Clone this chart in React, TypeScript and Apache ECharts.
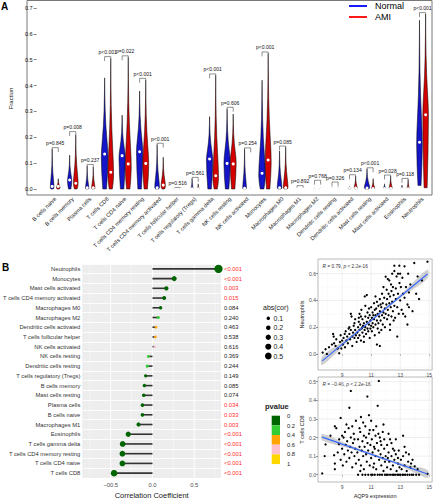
import React, { useEffect, useRef } from "react";
import * as echarts from "echarts";

// ---------- Panel A data ----------
const violinCats = ["B cells naive","B cells memory","Plasma cells","T cells CD8","T cells CD4 naive","T cells CD4 memory resting","T cells CD4 memory activated","T cells follicular helper","T cells regulatory (Tregs)","T cells gamma delta","NK cells resting","NK cells activated","Monocytes","Macrophages M0","Macrophages M1","Macrophages M2","Dendritic cells resting","Dendritic cells activated","Mast cells resting","Mast cells activated","Eosinophils","Neutrophils"];
const normalMed = [0.010,0.035,0.005,0.135,0.129,0.144,0.005,0.000,0.001,0.116,0.099,0.003,0.061,0.005,0.000,0.001,0.001,0.004,0.004,0.002,0.001,0.181];
const normalMin = [0,0,0,0,0,0,0,0,0,0,0,0,0,0,0,0,0,0,0,0,0,0.014];
const normalMax = [0.155,0.131,0.090,0.430,0.286,0.379,0.172,0.004,0.040,0.280,0.310,0.155,0.421,0.147,0.004,0.005,0.005,0.010,0.078,0.020,0.015,0.653];
const normalMode = [0.004,0.030,0.002,0.120,0.120,0.140,0.004,0,0,0.110,0.100,0.002,0.050,0.004,0,0,0,0.004,0.004,0.002,0.001,0.170];
const normalWidth = [0.55,0.65,0.5,1.0,0.95,0.95,0.7,0.3,0.3,0.95,0.95,0.55,1.0,0.7,0.3,0.3,0.3,0.45,0.8,0.35,0.3,0.85];
const amiMed = [0.010,0.022,0.005,0.065,0.097,0.099,0.015,0.000,0.001,0.051,0.097,0.001,0.112,0.005,0.000,0.001,0.001,0.004,0.002,0.003,0.001,0.287];
const amiMin = [0,0,0,0,0,0,0,0,0,0,0,0,0,0,0,0,0,0,0,0,0,0.005];
const amiMax = [0.040,0.210,0.085,0.505,0.510,0.422,0.123,0.004,0.020,0.440,0.290,0.005,0.525,0.162,0.004,0.005,0.005,0.050,0.040,0.050,0.037,0.677];
const amiMode = [0.004,0.020,0.002,0.050,0.080,0.090,0.010,0,0,0.040,0.100,0,0.100,0.004,0,0,0,0.004,0.002,0.003,0.001,0.280];
const amiWidth = [0.55,0.7,0.5,0.85,0.9,0.9,0.65,0.3,0.3,0.85,0.9,0.3,0.9,0.7,0.3,0.3,0.3,0.45,0.45,0.45,0.3,0.85];
const bracketY = [0.160,0.222,0.095,0.512,0.515,0.428,0.177,0.006,0.045,0.445,0.316,0.159,0.530,0.166,0.013,0.034,0.027,0.055,0.082,0.054,0.041,0.682];
const pTexts = ["p=0.845","p=0.008","p=0.237","p<0.001","p=0.022","p<0.001","p<0.001","p=0.516","p=0.561","p<0.001","p=0.606","p=0.254","p<0.001","p=0.085","p=0.892","p=0.768","p=0.326","p=0.134","p<0.001","p=0.028","p=0.118","p<0.001"];

// ---------- Panel B lollipop data ----------
const corCats = ["Neutrophils","Monocytes","Mast cells activated","T cells CD4 memory activated","Macrophages M0","Macrophages M2","Dendritic cells activated","T cells follicular helper","NK cells activated","NK cells resting","Dendritic cells resting","T cells regulatory (Tregs)","B cells memory","Mast cells resting","Plasma cells","B cells naive","Macrophages M1","Eosinophils","T cells gamma delta","T cells CD4 memory resting","T cells CD4 naive","T cells CD8"];
const corValues = [0.79,0.26,0.166,0.14,0.097,0.07,0.042,0.035,0.027,-0.05,-0.063,-0.082,-0.097,-0.105,-0.12,-0.12,-0.167,-0.29,-0.357,-0.36,-0.36,-0.46];
const corPLabels = ["<0.001","<0.001","0.003","0.015","0.084","0.240","0.463","0.538","0.616","0.369","0.244","0.149","0.085","0.074","0.034","0.033","0.003","<0.001","<0.001","<0.001","<0.001","<0.001"];
const corTicks = [-0.5, 0, 0.5];
const corMinorTicks = [-0.75, -0.25, 0.25, 0.75];
const sizeLegendValues = [0.1, 0.2, 0.3, 0.4, 0.5];
const pBinLabels = ["0", "0.2", "0.4", "0.6", "0.8", "1"];
const pColors = ["#006400", "#32cd32", "#ffa500", "#ffc0cb", "#ffd700"];

// ---------- Panel B scatter data ----------
const neutroPoints = [
[7.66,0.01],[7.86,0.035],[7.95,0.0],[8.1,0.05],[8.3,0.07],[8.38,0.15],[8.42,0.13],[8.45,0.08],[8.55,0.06],[8.6,0.11],[8.7,0.04],[8.8,0.005],[8.85,0.09],[8.95,0.04],[9.0,0.1],[8.9,0.14],[9.05,0.07],[9.1,0.12],[9.18,0.15],[9.2,0.05],
[9.25,0.17],[9.3,0.1],[9.35,0.13],[9.4,0.08],[9.45,0.19],[9.5,0.15],[9.55,0.11],[9.6,0.3],[9.65,0.28],[9.6,0.18],[9.7,0.06],[9.75,0.16],[9.8,0.21],[9.85,0.12],[9.9,0.18],[9.95,0.14],[9.7,0.13],[9.5,0.2],[9.85,0.23],[10.0,0.09],[9.9,0.26],
[10.05,0.16],[10.1,0.2],[10.1,0.12],[10.15,0.24],[10.2,0.18],[10.2,0.14],[10.25,0.22],[10.3,0.1],[10.33,0.33],[10.35,0.19],[10.4,0.16],[10.4,0.26],[10.45,0.21],[10.5,0.13],[10.5,0.23],[10.55,0.18],[10.56,0.43],[10.6,0.28],[10.6,0.2],[10.65,0.15],[10.7,0.44],[10.7,0.24],[10.75,0.31],[10.75,0.19],[10.8,0.17],[10.8,0.27],[10.85,0.22],[10.9,0.12],[10.9,0.29],[10.95,0.25],[10.95,0.19],[11.0,0.35],[11.0,0.21],[10.3,0.28],[10.6,0.36],[10.2,0.3],[10.5,0.09],[10.15,0.27],[10.85,0.34],[10.4,0.2],
[11.05,0.27],[11.05,0.17],[11.1,0.23],[11.1,0.31],[11.15,0.2],[11.2,0.38],[11.2,0.26],[11.25,0.14],[11.3,0.43],[11.3,0.29],[11.3,0.22],[11.35,0.34],[11.4,0.07],[11.4,0.25],[11.45,0.3],[11.45,0.19],[11.5,0.36],[11.5,0.23],[11.55,0.28],[11.6,0.06],[11.6,0.32],[11.6,0.41],[11.65,0.25],[11.7,0.18],[11.7,0.35],[11.75,0.29],[11.75,0.45],[11.8,0.22],[11.8,0.38],[11.85,0.31],[11.9,0.27],[11.9,0.42],[11.95,0.34],[11.95,0.2],[11.25,0.33],[11.55,0.16],[11.85,0.5],[11.15,0.29],[11.65,0.37],[11.4,0.39],
[12.0,0.578],[12.0,0.3],[12.05,0.37],[12.07,0.48],[12.1,0.26],[12.1,0.41],[12.15,0.33],[12.2,0.45],[12.2,0.29],[12.25,0.55],[12.25,0.38],[12.3,0.22],[12.3,0.43],[12.35,0.35],[12.37,0.52],[12.4,0.28],[12.4,0.47],[12.45,0.39],[12.5,0.32],[12.5,0.5],[12.55,0.44],[12.6,0.66],[12.6,0.62],[12.6,0.36],[12.65,0.27],[12.7,0.49],[12.7,0.41],[12.75,0.58],[12.8,0.13],[12.8,0.35],[12.85,0.45],[12.9,0.3],[12.94,0.66],[12.95,0.53],[12.15,0.56],[12.45,0.6],[12.85,0.6],[12.3,0.18],[12.55,0.25],
[13.0,0.4],[13.05,0.5],[13.1,0.33],[13.15,0.57],[13.2,0.45],[13.3,0.655],[13.3,0.42],[13.35,0.28],[13.4,0.5],[13.5,0.37],[13.5,0.22],[13.55,0.6],[13.6,0.46],[13.7,0.52],[13.85,0.32],[13.97,0.68],[14.1,0.45],[14.2,0.58],[14.3,0.41],[14.5,0.55],[14.88,0.69],[13.2,0.3],[13.6,0.35],[13.0,0.6]
];
const cd8Points = [
[7.63,0.007],[7.8,0.1],[7.86,0.163],[8.2,0.21],[8.45,0.105],[8.5,0.06],[8.5,0.03],[8.5,0.26],[8.6,0.25],[8.7,0.12],[8.78,0.165],[8.9,0.305],[8.9,0.08],[9.0,0.14],[9.0,0.21],[8.8,0.19],[9.05,0.05],
[9.1,0.2],[9.15,0.11],[9.2,0.23],[9.25,0.16],[9.3,0.07],[9.35,0.18],[9.4,0.13],[9.45,0.25],[9.5,0.36],[9.5,0.09],[9.55,0.15],[9.6,0.45],[9.6,0.2],[9.65,0.12],[9.7,0.04],[9.75,0.17],[9.8,0.22],[9.85,0.1],[9.9,0.14],[9.95,0.29],[9.95,0.06],[9.3,0.27],[9.7,0.26],[9.85,0.19],
[10.05,0.12],[10.1,0.0],[10.1,0.19],[10.15,0.08],[10.2,0.15],[10.25,0.23],[10.3,0.31],[10.3,0.05],[10.35,0.13],[10.4,0.0],[10.4,0.18],[10.45,0.1],[10.5,0.21],[10.5,0.03],[10.55,0.15],[10.6,0.0],[10.6,0.26],[10.65,0.11],[10.7,0.07],[10.74,0.42],[10.75,0.17],[10.8,0.0],[10.8,0.13],[10.85,0.32],[10.85,0.22],[10.9,0.05],[10.95,0.16],[11.0,0.29],[11.0,0.09],[11.0,0.0],[10.2,0.25],[10.65,0.2],[10.45,0.28],[10.9,0.24],[10.25,0.02],
[11.05,0.19],[11.1,0.12],[11.1,0.0],[11.15,0.24],[11.2,0.06],[11.2,0.15],[11.25,0.0],[11.3,0.21],[11.3,0.1],[11.35,0.03],[11.4,0.17],[11.45,0.37],[11.45,0.0],[11.5,0.13],[11.53,0.504],[11.55,0.08],[11.6,0.2],[11.6,0.0],[11.65,0.11],[11.7,0.05],[11.7,0.16],[11.75,0.0],[11.8,0.23],[11.8,0.09],[11.85,0.27],[11.85,0.02],[11.9,0.14],[11.95,0.0],[11.95,0.07],[11.35,0.26],[11.15,0.04],[11.65,0.18],[11.25,0.14],[11.5,0.22],[11.9,0.19],
[12.0,0.1],[12.05,0.0],[12.1,0.16],[12.1,0.04],[12.15,0.0],[12.2,0.12],[12.25,0.07],[12.3,0.0],[12.3,0.19],[12.35,0.03],[12.4,0.1],[12.45,0.0],[12.5,0.14],[12.5,0.05],[12.55,0.0],[12.6,0.08],[12.65,0.0],[12.7,0.19],[12.7,0.11],[12.75,0.02],[12.8,0.0],[12.85,0.06],[12.9,0.13],[12.9,0.0],[12.95,0.04],[12.2,0.22],[12.4,0.17],[12.6,0.13],[12.15,0.09],[12.85,0.09],
[13.0,0.0],[13.05,0.08],[13.1,0.03],[13.15,0.0],[13.2,0.21],[13.2,0.1],[13.25,0.0],[13.3,0.05],[13.35,0.0],[13.4,0.12],[13.45,0.02],[13.5,0.0],[13.55,0.07],[13.6,0.11],[13.65,0.0],[13.7,0.04],[13.8,0.0],[13.85,0.08],[13.9,0.0],[14.0,0.045],[14.1,0.0],[14.2,0.03],[14.3,0.0],[14.88,0.005],[13.3,0.15],[13.75,0.06]
];
const neutroFitX = [7.63, 14.88];
const neutroFitY = [-0.052, 0.598];
const neutroBandX = [7.63, 9.5, 11.3, 13.1, 14.88];
const neutroBandLow = [-0.085, 0.102, 0.267, 0.425, 0.565];
const neutroBandHigh = [-0.019, 0.130, 0.287, 0.453, 0.631];
const cd8FitX = [7.63, 14.88];
const cd8FitY = [0.202, 0.004];
const cd8BandX = [7.63, 9.5, 11.3, 13.1, 14.88];
const cd8BandLow = [0.184, 0.142, 0.095, 0.044, -0.018];
const cd8BandHigh = [0.220, 0.160, 0.109, 0.062, 0.026];
const exprTicks = [9, 11, 13, 15];
const exprMinor = [8, 10, 12, 14];
const neutroTicks = [0, 0.2, 0.4, 0.6];
const neutroMinor = [-0.1, 0.1, 0.3, 0.5, 0.7];
const cd8Ticks = [0, 0.1, 0.2, 0.3, 0.4, 0.5];
const cd8Minor = [0.05, 0.15, 0.25, 0.35, 0.45];

const FONT = "Liberation Sans, Arial, sans-serif";
const sizeOf = (v: number) => Math.sqrt(4.1 + 81.6 * Math.abs(v));
const pNum = (s: string) => (s.startsWith("<") ? 0 : parseFloat(s));
const pColor = (s: string) => pColors[Math.min(4, Math.floor(pNum(s) / 0.2))];

const makeViolin = (side: number, fill: string) => (params: any, api: any) => {
  const i = api.value(0);
  const med = api.value(1), mn = api.value(2), mx = api.value(3), mode = api.value(4), w = api.value(5);
  const band = api.size([1, 0])[0];
  const cx = api.coord([i, 0])[0] + side * band * 0.175;
  const Y = (v: number) => api.coord([i, v])[1];
  const W = band * 0.19 * w;
  const prof: number[][] = [];
  if (mode > mn) {
    prof.push([mn, 0.55], [mn + (mode - mn) * 0.5, 0.85]);
  }
  prof.push([mode, 1]);
  const tail = [[0.1, 0.93], [0.25, 0.65], [0.4, 0.38], [0.6, 0.16], [0.8, 0.06], [1, 0]];
  tail.forEach(([t, f]) => prof.push([mode + (mx - mode) * t, f]));
  const right = prof.map(([v, f]) => [cx + W * f, Y(v)]);
  const left = prof.slice().reverse().map(([v, f]) => [cx - W * f, Y(v)]);
  return {
    type: "group",
    children: [
      { type: "polygon", shape: { points: [...right, ...left] }, style: { fill, stroke: "#000", lineWidth: 0.5 } },
      { type: "circle", shape: { cx, cy: Y(med), r: 1.5 }, style: { fill: "#fff" } },
    ],
  };
};

const gridLines = (xi: number, yi: number, xs: number[], ys: number[], x0: number, y0: number, color: string, width: number, z: number) => ({
  type: "custom",
  xAxisIndex: xi,
  yAxisIndex: yi,
  z,
  silent: true,
  data: [[x0, y0]],
  renderItem: (params: any, api: any) => {
    const cs = params.coordSys;
    const children: any[] = [];
    xs.forEach((v) => {
      const px = api.coord([v, y0])[0];
      children.push({ type: "line", shape: { x1: px, y1: cs.y, x2: px, y2: cs.y + cs.height }, style: { stroke: color, lineWidth: width } });
    });
    ys.forEach((v) => {
      const py = api.coord([x0, v])[1];
      children.push({ type: "line", shape: { x1: cs.x, y1: py, x2: cs.x + cs.width, y2: py }, style: { stroke: color, lineWidth: width } });
    });
    return { type: "group", children };
  },
});

const bandSeries = (xi: number, yi: number, bx: number[], lo: number[], hi: number[]) => ({
  type: "custom",
  xAxisIndex: xi,
  yAxisIndex: yi,
  z: 2,
  silent: true,
  data: [[bx[0], lo[0]]],
  renderItem: (params: any, api: any) => {
    const top = bx.map((x, k) => api.coord([x, hi[k]]));
    const bot = bx.map((x, k) => api.coord([x, lo[k]])).reverse();
    return { type: "polygon", shape: { points: [...top, ...bot], smooth: 0.3 }, style: { fill: "rgba(170,170,170,0.55)" } };
  },
});

const valueAxisCommon = (labels: number[], fmt: (v: number) => string) => ({
  type: "value",
  axisLine: { show: false },
  splitLine: { show: false },
  axisTick: { show: true, customValues: labels, length: 2, lineStyle: { color: "#333", width: 0.5 } },
  axisLabel: { customValues: labels, formatter: fmt, fontSize: 5, color: "#4d4d4d", margin: 2, fontFamily: FONT },
});

export default function App() {
  const ref = useRef<HTMLDivElement>(null);
  useEffect(() => {
    if (!ref.current) return;
    const chart = echarts.init(ref.current, undefined, { renderer: "svg" });

    const sizeLegendY = [318.3, 327.7, 337.2, 346.7, 356];
    const graphic: any[] = [
      { type: "text", left: 1, top: 1, style: { text: "A", fontSize: 10, fontWeight: "bold", fill: "#000", fontFamily: FONT } },
      { type: "text", left: 2, top: 262, style: { text: "B", fontSize: 10, fontWeight: "bold", fill: "#000", fontFamily: FONT } },
      { type: "rect", shape: { x: 27, y: 0.5, width: 405, height: 194.5 }, style: { fill: "none", stroke: "#555", lineWidth: 0.8 }, silent: true },
      { type: "line", shape: { x1: 349, y1: 6, x2: 367, y2: 6 }, style: { stroke: "#0000ff", lineWidth: 1.8 } },
      { type: "line", shape: { x1: 349, y1: 17, x2: 367, y2: 17 }, style: { stroke: "#ff0000", lineWidth: 1.8 } },
      { type: "text", x: 375, y: 6, style: { text: "Normal", fontSize: 9, fill: "#000", fontFamily: FONT, textAlign: "left", textVerticalAlign: "middle" } },
      { type: "text", x: 375, y: 17, style: { text: "AMI", fontSize: 9, fill: "#000", fontFamily: FONT, textAlign: "left", textVerticalAlign: "middle" } },
      { type: "text", x: 263, y: 307, style: { text: "abs(cor)", fontSize: 7, fill: "#222", fontFamily: FONT, textAlign: "left", textVerticalAlign: "middle" } },
      { type: "text", x: 265, y: 406, style: { text: "pvalue", fontSize: 7.5, fontWeight: "bold", fill: "#222", fontFamily: FONT, textAlign: "left", textVerticalAlign: "middle" } },
      { type: "text", x: 322.5, y: 266, style: { text: "{i|R} = 0.79, {i|p} < 2.2e-16", fontSize: 4.8, fill: "#333", fontFamily: FONT, textAlign: "left", textVerticalAlign: "middle", rich: { i: { fontStyle: "italic", fontSize: 4.8, fontFamily: FONT, fill: "#333" } } } },
      { type: "text", x: 322.5, y: 384, style: { text: "{i|R} = \u22120.46, {i|p} < 2.2e-16", fontSize: 4.8, fill: "#333", fontFamily: FONT, textAlign: "left", textVerticalAlign: "middle", rich: { i: { fontStyle: "italic", fontSize: 4.8, fontFamily: FONT, fill: "#333" } } } },
    ];
    sizeLegendValues.forEach((v, k) => {
      graphic.push({ type: "circle", shape: { cx: 268.3, cy: sizeLegendY[k], r: sizeOf(v) / 2 }, style: { fill: "#000" } });
      graphic.push({ type: "text", x: 273.5, y: sizeLegendY[k], style: { text: String(v), fontSize: 7, fill: "#222", fontFamily: FONT, textAlign: "left", textVerticalAlign: "middle" } });
    });
    pColors.forEach((c, k) => {
      graphic.push({ type: "rect", shape: { x: 271.7, y: 415.7 + k * 9.67, width: 8.3, height: 9.67 }, style: { fill: c } });
    });
    pBinLabels.forEach((t, k) => {
      graphic.push({ type: "text", x: 287, y: 416 + k * 9.6, style: { text: t, fontSize: 5.8, fill: "#222", fontFamily: FONT, textAlign: "left", textVerticalAlign: "middle" } });
    });

    const option: any = {
      animation: false,
      textStyle: { fontFamily: FONT },
      grid: [
        { left: 36.8, width: 394.5, top: 8, height: 181 },
        { left: 80, width: 141, top: 264, height: 214, show: true, backgroundColor: "#ededed", borderWidth: 0 },
        { left: 318, width: 115, top: 259, height: 111, show: true, backgroundColor: "#fff", borderColor: "#8a8a8a", borderWidth: 0.6 },
        { left: 318, width: 115, top: 377, height: 106, show: true, backgroundColor: "#fff", borderColor: "#8a8a8a", borderWidth: 0.6 },
      ],
      xAxis: [
        {
          type: "category", gridIndex: 0, data: violinCats, offset: 6,
          axisLine: { show: false }, axisTick: { show: false },
          axisLabel: { rotate: 45, interval: 0, fontSize: 5.6, color: "#111", margin: 3, fontFamily: FONT },
        },
        {
          type: "value", gridIndex: 1, min: -0.84, max: 0.82,
          axisLine: { show: false }, axisTick: { show: false }, splitLine: { show: false },
          axisLabel: { customValues: corTicks, formatter: (v: number) => (v === 0 ? "0.0" : v.toFixed(1).replace("-", "\u22120")), fontSize: 5.8, color: "#4d4d4d", margin: 4, fontFamily: FONT },
          name: "Correlation Coefficient", nameLocation: "middle", nameGap: 13, nameTextStyle: { fontSize: 7.5, color: "#222", fontFamily: FONT },
        },
        { ...valueAxisCommon(exprTicks, (v: number) => String(v)), gridIndex: 2, min: 7.34, max: 15.2 },
        {
          ...valueAxisCommon(exprTicks, (v: number) => String(v)), gridIndex: 3, min: 7.34, max: 15.2,
          name: "AQP9 expression", nameLocation: "middle", nameGap: 11, nameTextStyle: { fontSize: 5.5, color: "#222", fontFamily: FONT },
        },
      ],
      yAxis: [
        {
          type: "value", gridIndex: 0, min: 0, max: 0.7, interval: 0.1, offset: 9.8,
          axisLine: { show: false }, splitLine: { show: false },
          axisTick: { show: true, length: 3, lineStyle: { color: "#333", width: 0.6 } },
          axisLabel: { formatter: (v: number) => v.toFixed(1), fontSize: 5.6, color: "#111", margin: 4, fontFamily: FONT },
          name: "Fraction", nameLocation: "middle", nameGap: 17, nameRotate: 90, nameTextStyle: { fontSize: 6, color: "#111", fontFamily: FONT },
        },
        {
          type: "category", gridIndex: 1, data: corCats, inverse: true,
          axisLine: { show: false }, axisTick: { show: false },
          splitLine: { show: true, lineStyle: { color: "#ffffff", width: 0.8 } },
          axisLabel: { interval: 0, fontSize: 5.8, color: "#333", margin: 2, fontFamily: FONT },
        },
        {
          type: "category", gridIndex: 1, data: corCats, inverse: true, position: "right",
          axisLine: { show: false }, axisTick: { show: false }, splitLine: { show: false },
          axisLabel: {
            interval: 0, fontSize: 5.8, margin: 3, fontFamily: FONT,
            formatter: (_v: string, idx: number) => corPLabels[idx],
            color: (_v: string, idx: number) => (pNum(corPLabels[idx]) < 0.05 ? "#ff2a2a" : "#222"),
          },
        },
        {
          ...valueAxisCommon(neutroTicks, (v: number) => v.toFixed(1)), gridIndex: 2, min: -0.12, max: 0.71,
          name: "Neutrophils", nameLocation: "middle", nameGap: 12, nameTextStyle: { fontSize: 5.5, color: "#222", fontFamily: FONT },
        },
        {
          ...valueAxisCommon(cd8Ticks, (v: number) => v.toFixed(1)), gridIndex: 3, min: -0.039, max: 0.525,
          name: "T cells CD8", nameLocation: "middle", nameGap: 12, nameTextStyle: { fontSize: 5.5, color: "#222", fontFamily: FONT },
        },
      ],
      graphic,
      series: [
        // Panel A
        {
          type: "custom", xAxisIndex: 0, yAxisIndex: 0, z: 3, silent: true,
          renderItem: makeViolin(-1, "#1414c8"),
          encode: { x: 0, y: [1, 2, 3] },
          data: violinCats.map((_c, i) => [i, normalMed[i], normalMin[i], normalMax[i], normalMode[i], normalWidth[i]]),
        },
        {
          type: "custom", xAxisIndex: 0, yAxisIndex: 0, z: 3, silent: true,
          renderItem: makeViolin(1, "#d40000"),
          encode: { x: 0, y: [1, 2, 3] },
          data: violinCats.map((_c, i) => [i, amiMed[i], amiMin[i], amiMax[i], amiMode[i], amiWidth[i]]),
        },
        {
          type: "custom", xAxisIndex: 0, yAxisIndex: 0, z: 2, silent: true,
          encode: { x: 0, y: [1, 2, 3] },
          data: violinCats.map((_c, i) => [i, bracketY[i], normalMax[i], amiMax[i]]),
          renderItem: (params: any, api: any) => {
            const i = api.value(0);
            const br = api.value(1);
            const band = api.size([1, 0])[0];
            const cx = api.coord([i, 0])[0];
            const lx = cx - band * 0.175, rx = cx + band * 0.175;
            const yb = api.coord([i, br])[1];
            const legEnd = (m: number) => api.coord([i, Math.max(m, br - 0.017)])[1];
            const yl = legEnd(api.value(2));
            const yr = legEnd(api.value(3));
            return {
              type: "group",
              children: [
                { type: "polyline", shape: { points: [[lx, yl], [lx, yb], [rx, yb], [rx, yr]] }, style: { stroke: "#222", lineWidth: 0.5, fill: "none" } },
                { type: "text", style: { text: pTexts[params.dataIndex], x: cx, y: yb - 2, align: "center", verticalAlign: "bottom", textAlign: "center", textVerticalAlign: "bottom", fontSize: 5, fill: "#111", fontFamily: FONT } },
              ],
            };
          },
        },
        // Panel B lollipop
        gridLines(1, 1, corMinorTicks, [], 0, 0, "#ffffff", 0.4, 1),
        gridLines(1, 1, corTicks, [], 0, 0, "#ffffff", 0.9, 1),
        {
          type: "bar", xAxisIndex: 1, yAxisIndex: 1, z: 3, silent: true,
          barWidth: 1.6, itemStyle: { color: "#333" },
          data: corValues,
        },
        {
          type: "scatter", xAxisIndex: 1, yAxisIndex: 1, z: 4, silent: true,
          data: corValues.map((v, i) => ({
            value: [v, corCats[i]],
            symbolSize: sizeOf(v),
            itemStyle: { color: pColor(corPLabels[i]), opacity: 1 },
          })),
        },
        // Scatter 1
        gridLines(2, 3, exprMinor, neutroMinor, 9, 0, "#f3f3f3", 0.4, 1),
        gridLines(2, 3, exprTicks, neutroTicks, 9, 0, "#e4e4e4", 0.6, 1),
        bandSeries(2, 3, neutroBandX, neutroBandLow, neutroBandHigh),
        {
          type: "scatter", xAxisIndex: 2, yAxisIndex: 3, z: 4, silent: true,
          symbolSize: 2.3, itemStyle: { color: "#000", opacity: 1 },
          data: neutroPoints,
        },
        {
          type: "line", xAxisIndex: 2, yAxisIndex: 3, z: 5, silent: true, symbol: "none",
          lineStyle: { color: "#3366ff", width: 1.1 },
          data: neutroFitX.map((x, k) => [x, neutroFitY[k]]),
        },
        // Scatter 2
        gridLines(3, 4, exprMinor, cd8Minor, 9, 0, "#f3f3f3", 0.4, 1),
        gridLines(3, 4, exprTicks, cd8Ticks, 9, 0, "#e4e4e4", 0.6, 1),
        bandSeries(3, 4, cd8BandX, cd8BandLow, cd8BandHigh),
        {
          type: "scatter", xAxisIndex: 3, yAxisIndex: 4, z: 4, silent: true,
          symbolSize: 2.3, itemStyle: { color: "#000", opacity: 1 },
          data: cd8Points,
        },
        {
          type: "line", xAxisIndex: 3, yAxisIndex: 4, z: 5, silent: true, symbol: "none",
          lineStyle: { color: "#3366ff", width: 1.1 },
          data: cd8FitX.map((x, k) => [x, cd8FitY[k]]),
        },
      ],
    };
    chart.setOption(option);
    return () => chart.dispose();
  }, []);
  return <div ref={ref} style={{ position: "absolute", left: 0, top: 0, width: 435, height: 500 }} />;
}
